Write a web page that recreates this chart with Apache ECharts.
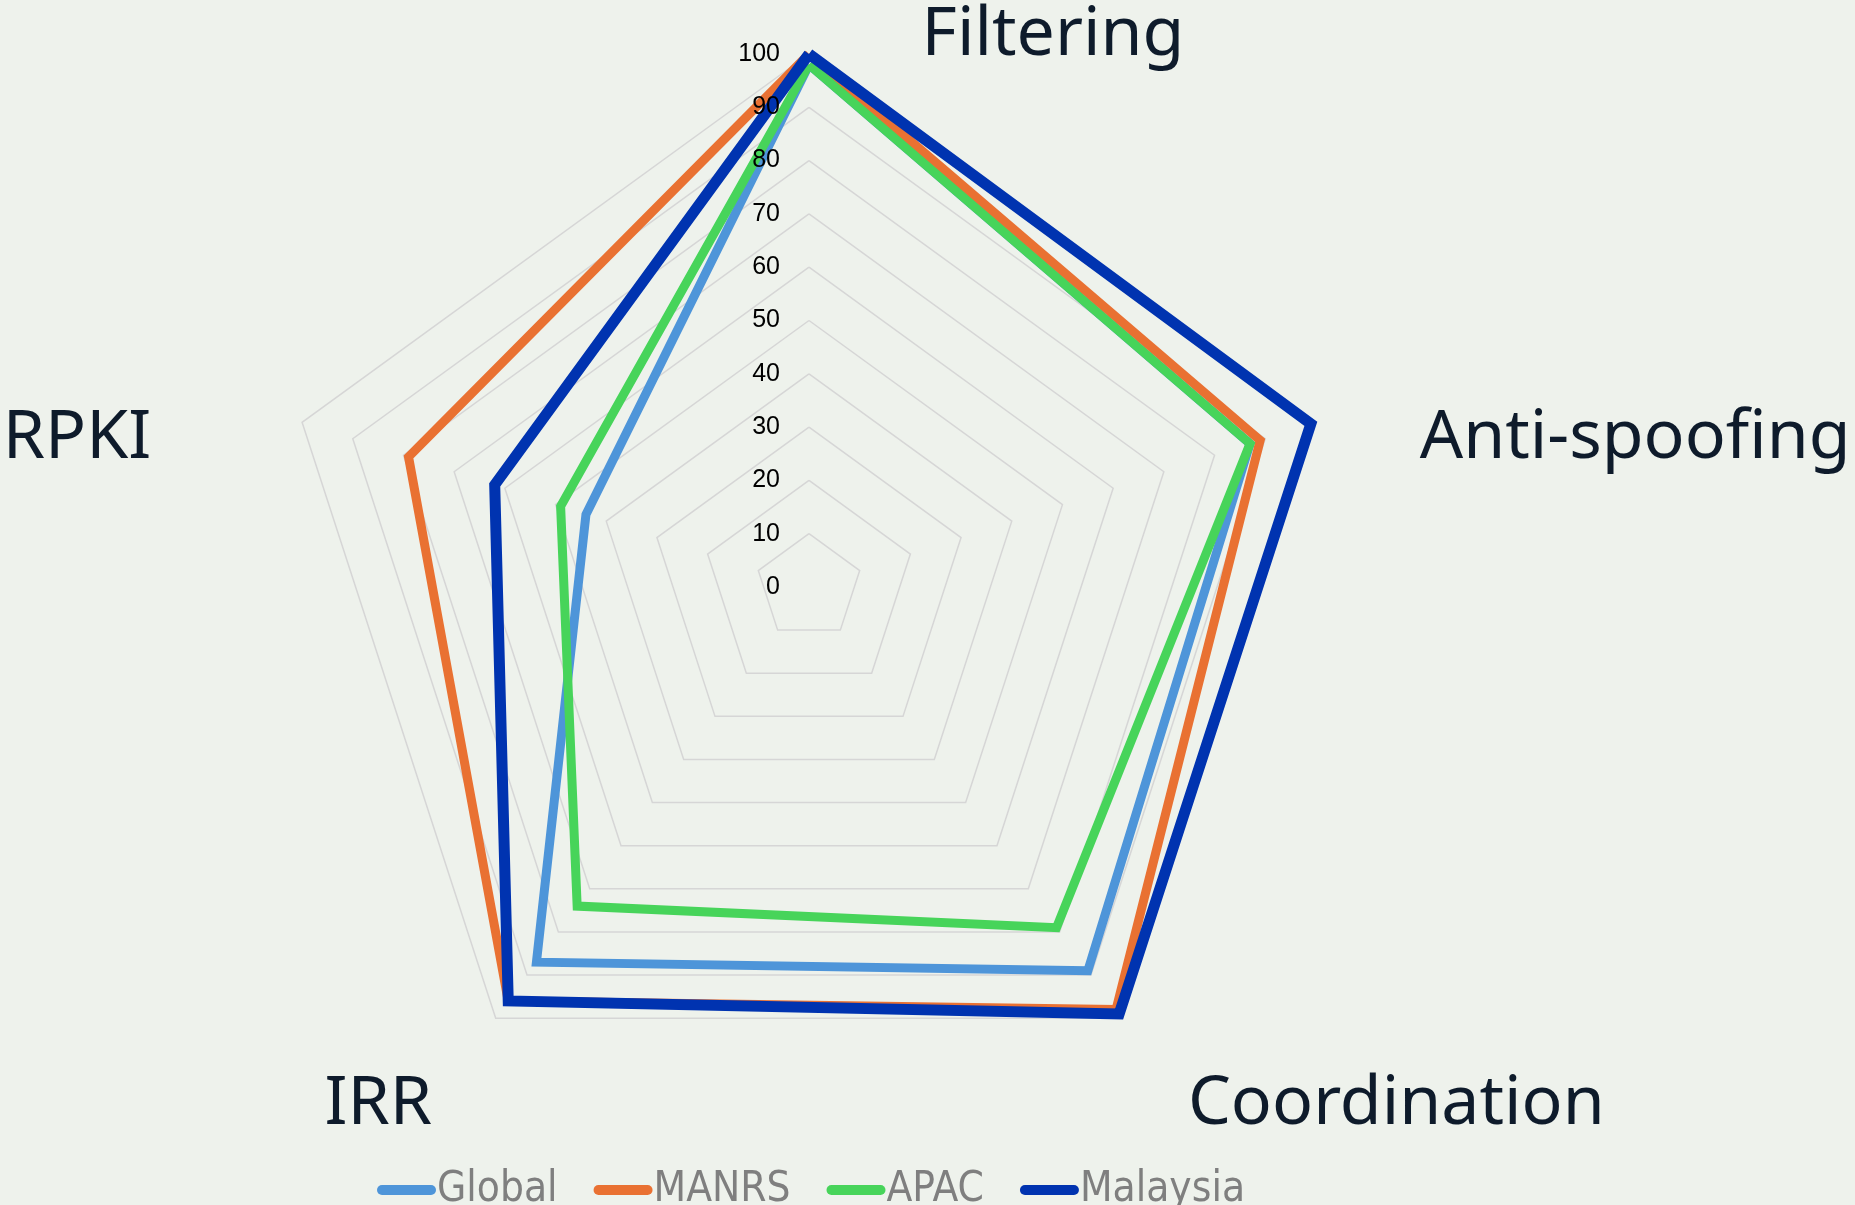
<!DOCTYPE html>
<html>
<head>
<meta charset="utf-8">
<script src="https://cdn.jsdelivr.net/npm/echarts@6/dist/echarts.min.js"></script>
<style>
html,body{margin:0;padding:0;background:#eef2ec;}
#chart{width:1855px;height:1205px;}
</style>
</head>
<body>
<div id="chart"></div>
<script>
// Indicator order goes counter-clockwise from the top in ECharts radar
const indicators = ['Filtering', 'RPKI', 'IRR', 'Coordination', 'Anti-spoofing'];
const seriesNames = ['Global', 'MANRS', 'APAC', 'Malaysia'];
const globalValues   = [98, 44, 87, 89, 87];
const manrsValues    = [100, 79, 96, 98, 89];
const apacValues     = [98, 49, 74, 79, 87];
const malaysiaValues = [100, 62, 96, 99, 99];
const tickMin = 0, tickMax = 100, tickStep = 10;

const colors = ['#4e95d9', '#e97132', '#47d45a', '#0033b0'];
const widths = [9, 9, 9, 11];
const valuesList = [globalValues, manrsValues, apacValues, malaysiaValues];

const CX = 809, CY = 587, R = 533;
const nameFont = "'Noto Sans', 'Open Sans', sans-serif";
const nameColor = '#0e1b2b';
const nameSize = 68;

// per-indicator label nudges (padding: top, right, bottom, left)
const namePads = {
  'Filtering':     [0, 0, 0, 488],
  'RPKI':          [22, 166, 0, 0],
  'IRR':           [199, 73, 0, 0],
  'Coordination':  [199, 0, 0, 75],
  'Anti-spoofing': [22, 0, 0, 119]
};
const rich = {};
indicators.forEach((n, i) => {
  rich['k' + i] = {
    fontSize: nameSize, fontFamily: nameFont, color: nameColor,
    lineHeight: nameSize, padding: namePads[n]
  };
});

const chart = echarts.init(document.getElementById('chart'), null, {renderer: 'canvas'});
chart.setOption({
  backgroundColor: '#eef2ec',
  animation: false,
  color: colors,
  legend: {
    data: seriesNames,
    left: 372,
    top: 1164,
    itemWidth: 59,
    itemHeight: 10,
    itemGap: 36,
    icon: 'path://M5,0 H54 A5,5 0 0 1 54,10 H5 A5,5 0 0 1 5,0 Z',
    textStyle: {
      color: '#7f7f7f',
      fontSize: 42,
      fontFamily: "'DejaVu Sans Condensed', 'Liberation Sans Narrow', sans-serif",
      padding: [0, 0, 0, -4]
    }
  },
  radar: {
    center: [CX, CY],
    radius: R,
    startAngle: 90,
    shape: 'polygon',
    splitNumber: 10,
    axisNameGap: -16,
    indicator: indicators.map(n => ({name: n, min: tickMin, max: tickMax})),
    axisName: {
      formatter: function (name) {
        const i = indicators.indexOf(name);
        return '{k' + i + '|' + name + '}';
      },
      rich: rich
    },
    axisLine: {show: false},
    axisTick: {show: false},
    axisLabel: {show: false},
    splitArea: {show: false},
    splitLine: {lineStyle: {color: '#d6d6d6', width: 1.5}}
  },
  polar: {center: [CX, CY], radius: R, z: 20},
  angleAxis: {show: false, startAngle: 90, min: 0, max: 360},
  radiusAxis: {
    z: 20,
    min: tickMin, max: tickMax, interval: tickStep,
    axisLine: {show: false},
    axisTick: {show: false},
    splitLine: {show: false},
    axisLabel: {
      color: '#000000',
      fontSize: 25,
      fontFamily: "'Liberation Sans', Arial, sans-serif",
      margin: 29
    }
  },
  series: seriesNames.map((name, i) => ({
    name: name,
    type: 'radar',
    z: 2 + i,
    symbol: 'none',
    lineStyle: {color: colors[i], width: widths[i], join: 'miter'},
    itemStyle: {color: colors[i]},
    data: [{value: valuesList[i], name: name}]
  }))
});
</script>
</body>
</html>
